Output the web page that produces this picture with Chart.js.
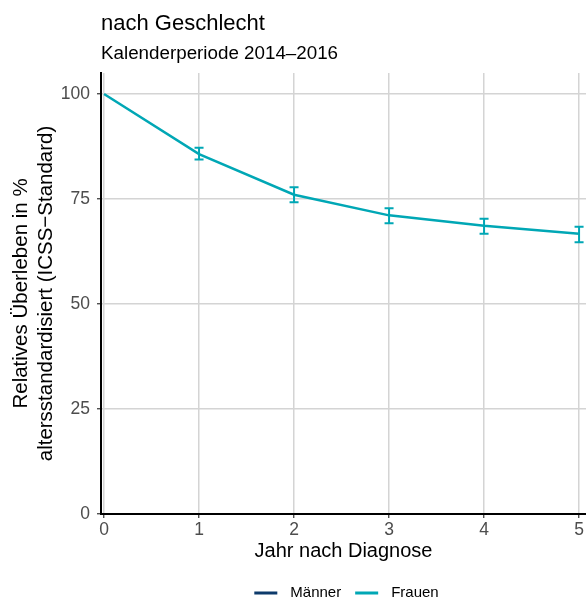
<!DOCTYPE html>
<html><head><meta charset="utf-8">
<script src="https://cdn.jsdelivr.net/npm/chart.js@4/dist/chart.umd.min.js"></script>
<style>html,body{margin:0;padding:0;background:#fff}#wrap{width:586px;height:599px}</style>
</head><body><div id="wrap"><canvas id="c" width="586" height="599"></canvas></div>
<script>
const years = [0, 1, 2, 3, 4, 5];
const frauen = [100, 85.7, 76.0, 71.1, 68.6, 66.7];
const frauenLo = [100, 84.4, 74.2, 69.2, 66.7, 64.7];
const frauenHi = [100, 87.2, 77.8, 72.8, 70.3, 68.4];
const maenner = [];
const yTicks = [0, 25, 50, 75, 100];
const xTicks = [0, 1, 2, 3, 4, 5];

const TEAL = '#00a7b5', NAVY = '#0d3a6b';
const FONT = 'Liberation Sans, Arial, sans-serif';

const errPlugin = {
  id: 'err',
  afterDatasetsDraw(chart) {
    const {ctx, scales: {x, y}} = chart;
    ctx.save();
    ctx.strokeStyle = TEAL; ctx.lineWidth = 2;
    years.forEach((yr, i) => {
      if (frauenHi[i] === frauenLo[i]) return;
      const px = x.getPixelForValue(yr);
      const lo = y.getPixelForValue(frauenLo[i]), hi = y.getPixelForValue(frauenHi[i]);
      ctx.beginPath();
      ctx.moveTo(px, lo); ctx.lineTo(px, hi);
      ctx.moveTo(px - 4.5, lo); ctx.lineTo(px + 4.5, lo);
      ctx.moveTo(px - 4.5, hi); ctx.lineTo(px + 4.5, hi);
      ctx.stroke();
    });
    ctx.restore();
  }
};

const legendPlugin = {
  id: 'myLegend',
  afterDraw(chart) {
    const {ctx, chartArea} = chart;
    const ds = chart.data.datasets;
    ctx.save();
    ctx.font = '15px ' + FONT;
    ctx.textBaseline = 'middle';
    const lineW = 23, gapT = 13, gapI = 14;
    const widths = ds.map(d => lineW + gapT + ctx.measureText(d.label).width);
    const total = widths.reduce((a, b) => a + b, 0) + gapI * (ds.length - 1);
    let xx = (chartArea.left + chartArea.right) / 2 - total / 2 + 3;
    const yy = 593;
    ds.forEach((d, i) => {
      ctx.fillStyle = d.borderColor;
      ctx.fillRect(xx, yy - 1.5, lineW, 3);
      ctx.fillStyle = '#000';
      ctx.fillText(d.label, xx + lineW + gapT, yy);
      xx += widths[i] + gapI;
    });
    ctx.restore();
  }
};

new Chart(document.getElementById('c'), {
  type: 'line',
  data: {
    datasets: [
      {label: 'Männer', data: maenner, borderColor: NAVY, backgroundColor: NAVY, borderWidth: 2.5, pointRadius: 0},
      {label: 'Frauen', data: years.map((v, i) => ({x: v, y: frauen[i]})), borderColor: TEAL, backgroundColor: TEAL, borderWidth: 2.5, pointRadius: 0, tension: 0}
    ]
  },
  options: {
    responsive: false, animation: false,
    layout: {padding: {left: 0, right: 0, top: 11, bottom: 0}},
    plugins: {
      title: {display: true, text: 'nach Geschlecht', align: 'start', fullSize: false, color: '#000',
        font: {family: FONT, size: 22, weight: 'normal', lineHeight: 1.2}, padding: {top: 0, bottom: 5}},
      subtitle: {display: true, text: 'Kalenderperiode 2014–2016', align: 'start', fullSize: false, color: '#000',
        font: {family: FONT, size: 18.8, weight: 'normal', lineHeight: 1.2}, padding: {top: 0, bottom: 8}},
      legend: {display: false},
      tooltip: {enabled: false}
    },
    scales: {
      x: {type: 'linear', min: -0.032, max: 5.073,
        afterBuildTicks: s => { s.ticks = xTicks.map(v => ({value: v})); },
        afterFit: s => { s.height = 85; },
        grid: {color: '#d4d4d4', lineWidth: 1.5, tickColor: '#333', tickLength: 4, tickWidth: 1.2},
        border: {color: '#000', width: 2},
        ticks: {color: '#4d4d4d', padding: 2, font: {family: FONT, size: 17.5}},
        title: {display: true, text: 'Jahr nach Diagnose', color: '#000', padding: {top: 0, bottom: 36},
          font: {family: FONT, size: 20, lineHeight: 1.2}}
      },
      y: {min: 0, max: 105,
        afterBuildTicks: s => { s.ticks = yTicks.map(v => ({value: v})); },
        afterFit: s => { s.width = 101; },
        grid: {color: '#d4d4d4', lineWidth: 1.5, tickColor: '#333', tickLength: 4, tickWidth: 1.2},
        border: {color: '#000', width: 2},
        ticks: {color: '#4d4d4d', padding: 7, font: {family: FONT, size: 17.5}},
        title: {display: true, text: ['Relatives Überleben in %', 'altersstandardisiert (ICSS−Standard)'], color: '#000',
          padding: {top: 9, bottom: 0}, font: {family: FONT, size: 20.5, lineHeight: 1.2}}
      }
    }
  },
  plugins: [errPlugin, legendPlugin]
});
</script></body></html>
